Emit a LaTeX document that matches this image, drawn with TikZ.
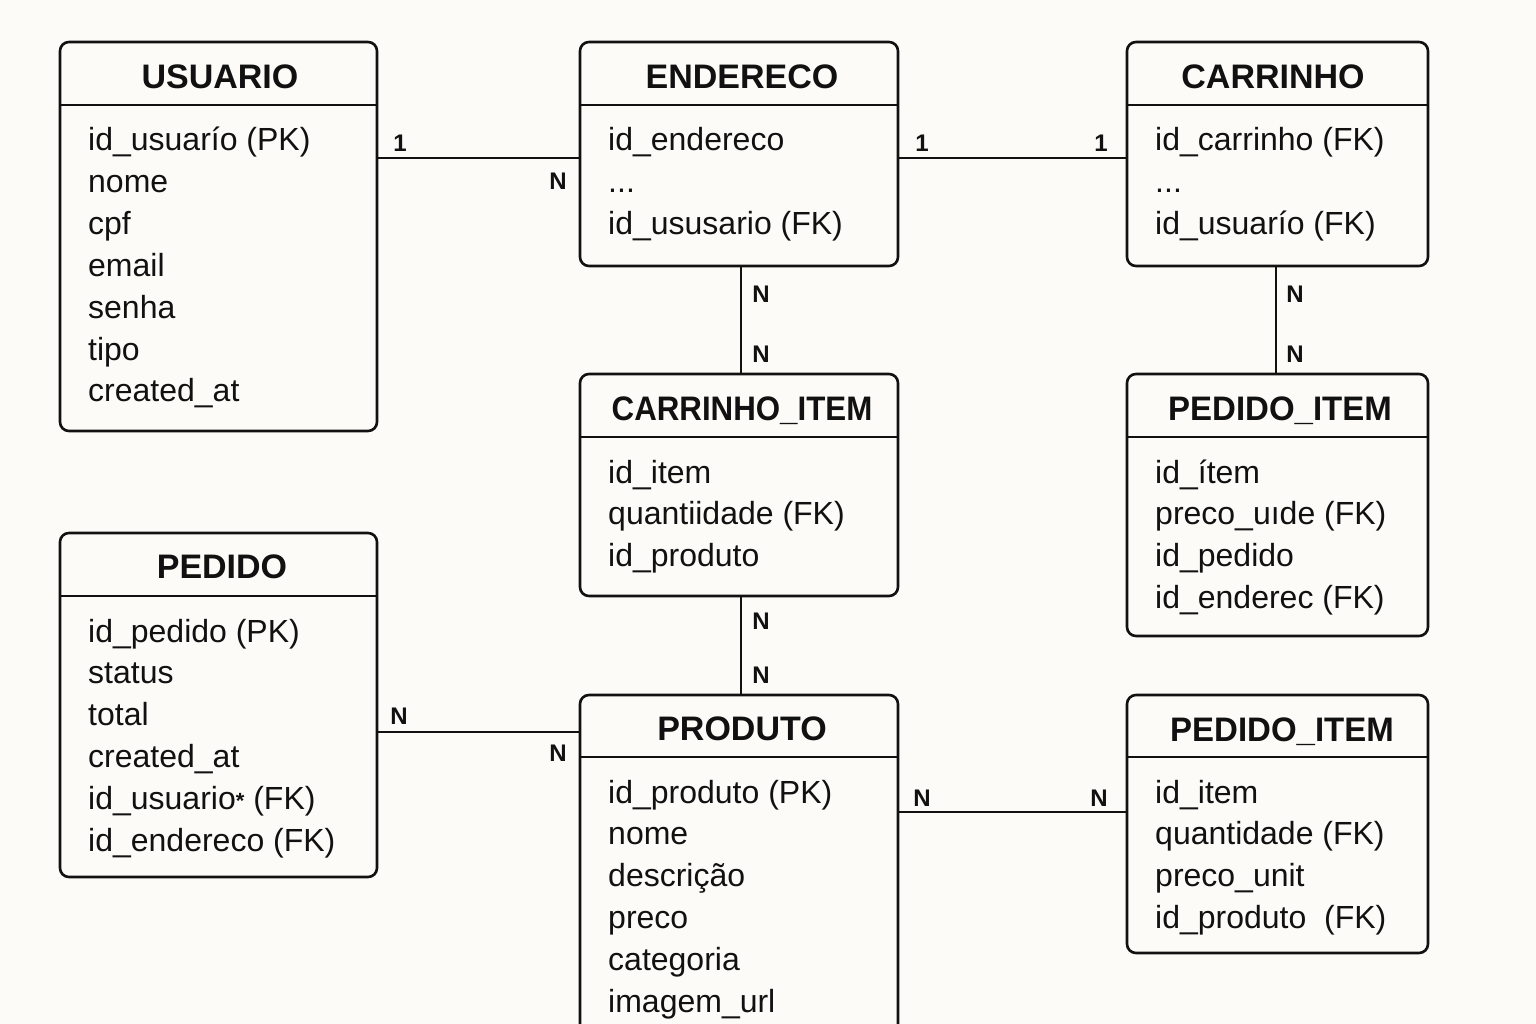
\documentclass[tikz,border=0pt]{standalone}
\usepackage{fontspec}
\setmainfont{Liberation Sans}
\definecolor{bg}{HTML}{FCFBF7}
\definecolor{ln}{HTML}{111111}
\tikzset{
 ent/.style={draw=ln, line width=2.6pt, rounded corners=9pt, fill=bg, inner sep=0pt, outer sep=0pt},
 ttl/.style={font=\fontsize{34}{34}\selectfont\bfseries, text=ln, anchor=base, inner sep=0pt},
 row/.style={font=\fontsize{32}{32}\selectfont, text=ln, anchor=base west, inner sep=0pt},
 card/.style={font=\fontsize{24}{24}\selectfont\bfseries, text=ln, anchor=base, inner sep=0pt},
 conn/.style={draw=ln, line width=2.6pt},
}
\newcommand\entrows[4]{%
 \foreach \t [count=\i] in {#4} \node[row] (#1\i) at (#2, {#3+(\i-1)*41.8}) {\t};}
\newcommand\threedots{{.}{.}{.}}
\begin{document}
\begin{tikzpicture}[x=1pt,y=-1pt]
\path[use as bounding box, fill=bg] (0,0) rectangle (1536,1024);
\clip (0,0) rectangle (1536,1024);
% entities
\node[ent, minimum width=317pt, minimum height=389pt] (usuario) at (218.5,236.5) {};
\node[ent, minimum width=318pt, minimum height=224pt] (endereco) at (739,154) {};
\node[ent, minimum width=301pt, minimum height=224pt] (carrinho) at (1277.5,154) {};
\node[ent, minimum width=318pt, minimum height=222pt] (carrinhoitem) at (739,485) {};
\node[ent, minimum width=301pt, minimum height=262pt] (pedidoitemA) at (1277.5,505) {};
\node[ent, minimum width=317pt, minimum height=344pt] (pedido) at (218.5,705) {};
\node[ent, minimum width=318pt, minimum height=355pt] (produto) at (739,872.5) {};
\node[ent, minimum width=301pt, minimum height=258pt] (pedidoitemB) at (1277.5,824) {};
% header lines
\draw[conn] (usuario.west |- 0,105) -- (usuario.east |- 0,105);
\draw[conn] (endereco.west |- 0,105) -- (endereco.east |- 0,105);
\draw[conn] (carrinho.west |- 0,105) -- (carrinho.east |- 0,105);
\draw[conn] (carrinhoitem.west |- 0,437) -- (carrinhoitem.east |- 0,437);
\draw[conn] (pedidoitemA.west |- 0,437) -- (pedidoitemA.east |- 0,437);
\draw[conn] (pedido.west |- 0,596) -- (pedido.east |- 0,596);
\draw[conn] (produto.west |- 0,757) -- (produto.east |- 0,757);
\draw[conn] (pedidoitemB.west |- 0,757) -- (pedidoitemB.east |- 0,757);
% titles
\node[ttl] (tusuario) at (220,89) {USUARIO};
\node[ttl] (tendereco) at (742,89) {ENDERECO};
\node[ttl] (tcarrinho) at (1273,89) {CARRINHO};
\node[ttl] (tcarrinhoitem) at (742,420) {\scalebox{0.92}[1]{CARRINHO\_ITEM}};
\node[ttl] (tpedidoitemA) at (1280,420) {\scalebox{0.97}[1]{PEDIDO\_ITEM}};
\node[ttl] (tpedido) at (222,578) {PEDIDO};
\node[ttl] (tproduto) at (742,740) {PRODUTO};
\node[ttl] (tpedidoitemB) at (1282,741) {\scalebox{0.97}[1]{PEDIDO\_ITEM}};
% rows
\entrows{u}{88}{151}{id\_usuarío (PK), nome, cpf, email, senha, tipo, created\_at}
\entrows{e}{608}{151}{id\_endereco, \threedots, id\_ususario (FK)}
\entrows{c}{1155}{151}{id\_carrinho (FK), \threedots, id\_usuarío (FK)}
\entrows{ci}{608}{483}{id\_item, quantiidade (FK), id\_produto}
\entrows{pa}{1155}{483}{id\_ítem, preco\_uıde (FK), id\_pedido, id\_enderec (FK)}
\entrows{p}{88}{642}{id\_pedido (PK), status, total, created\_at, id\_usuario{\raisebox{1pt}{\fontsize{22}{22}\selectfont\bfseries *}} (FK), id\_endereco (FK)}
\entrows{pr}{608}{803}{id\_produto (PK), nome, descrição, preco, categoria, imagem\_url}
\entrows{pb}{1155}{803}{id\_item, quantidade (FK), preco\_unit, id\_produto\ \ (FK)}
% connectors
\draw[conn] (usuario.east |- 0,158) -- (endereco.west |- 0,158);
\draw[conn] (endereco.east |- 0,158) -- (carrinho.west |- 0,158);
\draw[conn] (endereco.south -| 741,0) -- (carrinhoitem.north -| 741,0);
\draw[conn] (carrinho.south -| 1276,0) -- (pedidoitemA.north -| 1276,0);
\draw[conn] (carrinhoitem.south -| 741,0) -- (produto.north -| 741,0);
\draw[conn] (pedido.east |- 0,732) -- (produto.west |- 0,732);
\draw[conn] (produto.east |- 0,812) -- (pedidoitemB.west |- 0,812);
% cardinalities
\node[card] (k1) at (400,152) {1};
\node[card] (k2) at (558,190) {N};
\node[card] (k3) at (922,152) {1};
\node[card] (k4) at (1101,152) {1};
\node[card] (k5) at (761,302) {N};
\node[card] (k6) at (761,362) {N};
\node[card] (k7) at (1295,302) {N};
\node[card] (k8) at (1295,362) {N};
\node[card] (k9) at (761,629) {N};
\node[card] (k10) at (761,683) {N};
\node[card] (k11) at (399,724) {N};
\node[card] (k12) at (558,761) {N};
\node[card] (k13) at (922,806) {N};
\node[card] (k14) at (1099,806) {N};
\end{tikzpicture}
\end{document}
